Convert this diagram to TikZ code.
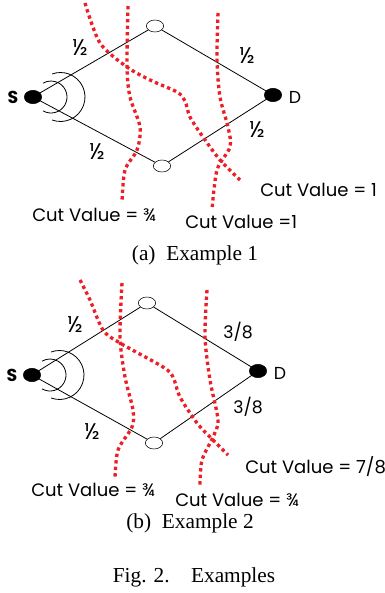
\documentclass[tikz,border=0pt]{standalone}
\usepackage{fontspec}
\setmainfont{Liberation Serif}
\newfontfamily\lblfont{Poppins}
\usetikzlibrary{shapes.geometric,calc}
\definecolor{cutred}{RGB}{236,30,38}

\begin{document}
\begin{tikzpicture}[x=0.75pt,y=0.75pt,yscale=-1,xscale=1,
  full/.style={ellipse,draw,fill=black,inner sep=0pt,minimum width=13,minimum height=10},
  hollow/.style={ellipse,draw,fill=white,inner sep=0pt,minimum width=13,minimum height=9},
  link/.style={line width=0.6pt},
  cut/.style={cutred,line width=2.5pt,dash pattern={on 2.5pt off 2.4pt},smooth},
  lbl/.style={inner sep=0.75pt,font=\lblfont\fontsize{13}{15}\selectfont},
  half/.style={inner sep=0.75pt,font=\lblfont\fontsize{17}{19}\selectfont},
  cutlbl/.style={anchor=west,inner sep=0.75pt,font=\lblfont\fontsize{13.5}{16}\selectfont},
  capt/.style={inner sep=0.75pt,font=\fontsize{16}{19}\selectfont}]
\useasboundingbox (0,0) rectangle (385,593);

%%% (a) Example 1
%Shape: Ellipse
\node [full] (s1) at (33,97) {};
\node [hollow] (u1) at (155,26) {};
\node [hollow] (v1) at (162,166) {};
\node [full] (d1) at (273,95) {};
%Straight Lines
\draw [link] (s1.center) -- (u1) -- (d1.center);
\draw [link] (s1.center) -- (v1) -- (d1.center);
%Arcs
\draw [link] ($(s1)+(18,0)$) ++(120:16) arc [start angle=120,end angle=-120,radius=16];
\draw [link] ($(s1)+(27.5,0)$) ++(110:24.5) arc [start angle=110,end angle=-110,radius=24.5];
%Cuts
\draw [cut] plot coordinates {(85,3) (100,43) (127,67) (150,80) (177,92) (185,101) (190,117) (203,137) (220,160) (240,180)};
\draw [cut] plot coordinates {(128,6) (127,67) (130,97) (140,127) (137,150) (125,170) (122,202)};
\draw [cut] plot coordinates {(218,13) (217,60) (220,97) (228,127) (230,147) (217,170) (212,210)};

% Text Node
\node [lbl,font=\lblfont\bfseries\fontsize{13}{15}\selectfont] (s1lbl) at (13,97) {S};
\node [lbl] (d1lbl) at (295,97) {D};
\node [half] (e1a) at (80,48) {½};
\node [half] (e1b) at (247,56) {½};
\node [half] (e1c) at (257,130) {½};
\node [half] (e1d) at (97,152) {½};
\node [cutlbl] (c1a) at (259,190) {Cut Value = 1};
\node [cutlbl] (c1b) at (31,215) {Cut Value = ¾};
\node [cutlbl] (c1c) at (184,222) {Cut Value =1};
\node [capt] (cap1) at (195,255) {(a)\ \ Example 1};

%%% (b) Example 2
%Shape: Ellipse
\node [full] (s2) at (32,375) {};
\node [hollow] (u2) at (147,303) {};
\node [hollow] (v2) at (154,443) {};
\node [full] (d2) at (258,371) {};
%Straight Lines
\draw [link] (s2.center) -- (u2) -- (d2.center);
\draw [link] (s2.center) -- (v2) -- (d2.center);
%Arcs
\draw [link] ($(s2)+(18,0)$) ++(120:16) arc [start angle=120,end angle=-120,radius=16];
\draw [link] ($(s2)+(27.5,0)$) ++(110:24.5) arc [start angle=110,end angle=-110,radius=24.5];
%Cuts
\draw [cut] plot coordinates {(80,280) (90,300) (103,330) (120,343) (163,367) (173,377) (180,397) (197,423) (213,440) (228,455)};
\draw [cut] plot coordinates {(122,283) (120,337) (125,377) (133,410) (132,427) (118,450) (115,478)};
\draw [cut] plot coordinates {(207,290) (205,337) (210,380) (218,420) (213,437) (202,460) (200,485)};

% Text Node
\node [lbl,font=\lblfont\bfseries\fontsize{13}{15}\selectfont] (s2lbl) at (12,375) {S};
\node [lbl] (d2lbl) at (280,373) {D};
\node [half] (e2a) at (75,325) {½};
\node [lbl] (e2b) at (238,332) {3/8};
\node [lbl] (e2c) at (248,407) {3/8};
\node [half] (e2d) at (92,432) {½};
\node [cutlbl] (c2a) at (244,467) {Cut Value = 7/8};
\node [cutlbl] (c2b) at (30,490) {Cut Value = ¾};
\node [cutlbl] (c2c) at (174,500) {Cut Value = ¾};
\node [capt] (cap2) at (190,523) {(b)\ \ Example 2};

% Text Node
\node [capt] (fig) at (194,577) {Fig. 2.\quad Examples};

\end{tikzpicture}
\end{document}
